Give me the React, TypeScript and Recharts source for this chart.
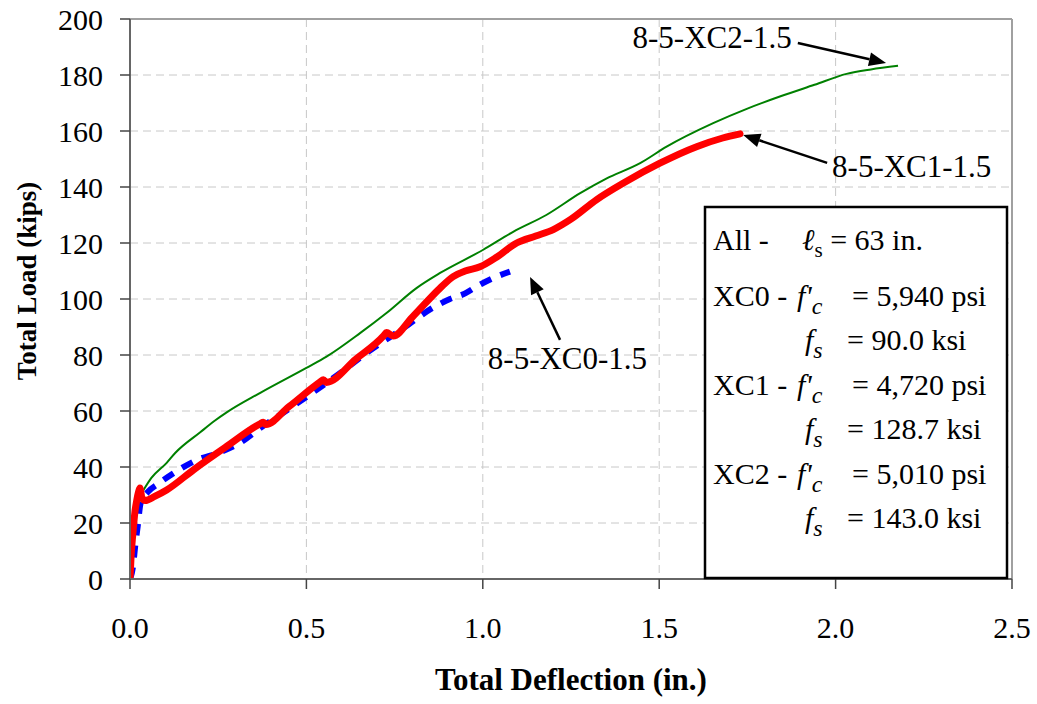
import { LineChart, Line, XAxis, YAxis, CartesianGrid, ReferenceLine, ReferenceDot, Label } from 'recharts';

const FONT = '"Liberation Serif", "Times New Roman", serif';

// axis ticks
const deflTicks = [0, 0.5, 1, 1.5, 2, 2.5];
const loadTicks = [0, 20, 40, 60, 80, 100, 120, 140, 160, 180, 200];

// 8-5-XC0-1.5 (blue dashed)
const xc0Defl = [0, 0.008, 0.015, 0.022, 0.03, 0.05, 0.08, 0.12, 0.19, 0.25, 0.31, 0.37, 0.425, 0.5, 0.6, 0.67, 0.775, 0.86, 0.907, 0.95, 0.982, 1.03, 1.077];
const xc0Load = [0, 4, 12, 19, 27, 31, 34, 37.5, 42.5, 45, 48.5, 54, 58.6, 65, 74, 80.7, 89.6, 97, 100, 102, 104.4, 107.5, 109.8];

// 8-5-XC1-1.5 (red)
const xc1Defl = [0, 0.003, 0.008, 0.014, 0.019, 0.024, 0.028, 0.034, 0.043, 0.07, 0.104, 0.18, 0.27, 0.37, 0.378, 0.385, 0.45, 0.54, 0.548, 0.556, 0.64, 0.72, 0.727, 0.746, 0.8, 0.879, 0.916, 0.95, 0.992, 1.04, 1.096, 1.15, 1.2, 1.25, 1.323, 1.4, 1.502, 1.606, 1.68, 1.729];
const xc1Load = [0, 8, 16, 24, 28, 31, 32.5, 29, 28, 29.5, 31.8, 39, 47, 55.5, 56, 55.2, 61.5, 70.5, 71.2, 70.2, 78.5, 87, 88, 86.8, 93.5, 103.9, 108, 110, 111.5, 115, 120, 122.5, 124.8, 128.5, 135.5, 141.5, 148.5, 154.4, 157.5, 159];

// 8-5-XC2-1.5 (green)
const xc2Defl = [0, 0.002, 0.005, 0.009, 0.02, 0.037, 0.06, 0.104, 0.128, 0.2, 0.24, 0.274, 0.368, 0.5, 0.557, 0.652, 0.727, 0.812, 0.879, 1.0, 1.086, 1.18, 1.276, 1.35, 1.446, 1.521, 1.653, 1.75, 1.842, 1.94, 2.031, 2.1, 2.177];
const xc2Load = [0, 8, 15, 22, 28, 31.5, 36, 41.5, 45, 52.5, 56.5, 59.5, 66.4, 75.4, 79.4, 87.8, 95, 103.9, 109.3, 117.5, 124, 130, 137.8, 143, 148.5, 154.4, 162.8, 168, 172.3, 176.5, 180.4, 182, 183.3];

// callouts: text anchor point and arrow (tail -> head), in data units
const calloutNames = ['8-5-XC2-1.5', '8-5-XC1-1.5', '8-5-XC0-1.5'];
const calloutText = [[1.876, 193.6, 'end'], [1.99, 147.5, 'start'], [1.24, 78.9, 'middle']];
const calloutTail = [[1.893, 191.4], [1.976, 148.6], [1.219, 85.4]];
const calloutHead = [[2.143, 184.3], [1.738, 158.6], [1.134, 107.9]];

// spec box rows
const specTags = ['XC0 -', 'XC1 -', 'XC2 -'];
const specFc = ['5,940 psi', '4,720 psi', '5,010 psi'];
const specFs = ['90.0 ksi', '128.7 ksi', '143.0 ksi'];

const toRows = (xs: number[], ys: number[]) => xs.map((x, i) => ({ x, y: ys[i] }));

const arrowShape = (p: any) => {
  const { x1, y1, x2, y2 } = p;
  const ang = Math.atan2(y2 - y1, x2 - x1);
  const len = 17;
  const half = 7;
  const bx = x2 - len * Math.cos(ang);
  const by = y2 - len * Math.sin(ang);
  const nx = -Math.sin(ang) * half;
  const ny = Math.cos(ang) * half;
  return (
    <g>
      <line x1={x1} y1={y1} x2={bx} y2={by} stroke="#000" strokeWidth={2.5} />
      <polygon points={`${x2},${y2} ${bx + nx},${by + ny} ${bx - nx},${by - ny}`} fill="#000" />
    </g>
  );
};

function SpecBox() {
  const base = [306, 395, 484];
  return (
    <svg width={1037} height={704} style={{ position: 'absolute', left: 0, top: 0, pointerEvents: 'none' }} fontFamily={FONT} fontSize={30} fill="#000">
      <rect x={705} y={207} width={302} height={371} fill="#fff" stroke="#000" strokeWidth={2.5} />
      <text x={713} y={250}>All -</text>
      <text x={802} y={250}>
        <tspan fontStyle="italic">ℓ</tspan>
        <tspan fontSize={21} dy={7}>s</tspan>
        <tspan dy={-7}> = 63 in.</tspan>
      </text>
      {specTags.map((tag, i) => (
        <g key={tag}>
          <text x={713} y={base[i]}>{tag}</text>
          <text x={797} y={base[i]}>
            <tspan fontStyle="italic">f'</tspan>
            <tspan fontStyle="italic" fontSize={24} dy={8}>c</tspan>
          </text>
          <text x={852} y={base[i]}>= {specFc[i]}</text>
          <text x={805} y={base[i] + 44}>
            <tspan fontStyle="italic">f</tspan>
            <tspan fontStyle="italic" fontSize={24} dy={8}>s</tspan>
          </text>
          <text x={847} y={base[i] + 44}>= {specFs[i]}</text>
        </g>
      ))}
    </svg>
  );
}

export default function App() {
  const tickStyle = { fontSize: 30, fill: '#000', fontFamily: FONT };
  return (
    <div style={{ position: 'absolute', left: 0, top: 0, width: 1037, height: 704, background: '#fff' }}>
      <LineChart width={1037} height={704} margin={{ top: 19, right: 25, left: 0, bottom: 0 }}>
        <CartesianGrid stroke="#c8c8c8" strokeDasharray="8 5" />
        <XAxis
          type="number"
          dataKey="x"
          domain={[0, 2.5]}
          ticks={deflTicks}
          tickFormatter={(v: number) => v.toFixed(1)}
          height={125}
          tickSize={10}
          tickMargin={28}
          tick={tickStyle}
          axisLine={{ stroke: '#666', strokeWidth: 2 }}
          tickLine={{ stroke: '#444', strokeWidth: 1.5 }}
          allowDataOverflow
        >
          <Label
            content={(p: any) => {
              const vb = p.viewBox;
              return (
                <text x={vb.x + vb.width / 2} y={690} textAnchor="middle" fontFamily={FONT} fontSize={31} fontWeight="bold" fill="#000">
                  Total Deflection (in.)
                </text>
              );
            }}
          />
        </XAxis>
        <YAxis
          type="number"
          domain={[0, 200]}
          ticks={loadTicks}
          width={130}
          tickSize={10}
          tickMargin={17}
          tick={tickStyle}
          axisLine={{ stroke: '#666', strokeWidth: 2 }}
          tickLine={{ stroke: '#444', strokeWidth: 1.5 }}
          allowDataOverflow
        >
          <Label
            content={(p: any) => {
              const vb = p.viewBox;
              const cy = vb.y + vb.height / 2 - 18;
              return (
                <text transform={`translate(36, ${cy}) rotate(-90)`} textAnchor="middle" fontFamily={FONT} fontSize={27} fontWeight="bold" fill="#000">
                  Total Load (kips)
                </text>
              );
            }}
          />
        </YAxis>
        <ReferenceLine x={2.5} stroke="#a0a0a0" strokeWidth={2} />
        <ReferenceLine y={200} stroke="#a0a0a0" strokeWidth={2} />
        <Line
          data={toRows(xc0Defl, xc0Load)}
          dataKey="y"
          type="monotone"
          stroke="#0000ff"
          strokeWidth={6}
          strokeDasharray="12 10"
          dot={false}
          isAnimationActive={false}
        />
        <Line
          data={toRows(xc2Defl, xc2Load)}
          dataKey="y"
          type="monotone"
          stroke="#008000"
          strokeWidth={2}
          dot={false}
          isAnimationActive={false}
        />
        <Line
          data={toRows(xc1Defl, xc1Load)}
          dataKey="y"
          type="monotone"
          stroke="#ff0000"
          strokeWidth={7}
          strokeLinecap="round"
          strokeLinejoin="round"
          dot={false}
          isAnimationActive={false}
        />
        {calloutNames.map((name, i) => (
          <ReferenceLine
            key={`arrow-${name}`}
            segment={[
              { x: calloutTail[i][0], y: calloutTail[i][1] },
              { x: calloutHead[i][0], y: calloutHead[i][1] },
            ]}
            shape={arrowShape}
          />
        ))}
        {calloutNames.map((name, i) => (
          <ReferenceDot
            key={`text-${name}`}
            x={calloutText[i][0] as number}
            y={calloutText[i][1] as number}
            r={0}
            shape={(p: any) => (
              <text x={p.cx} y={p.cy} dy="0.35em" textAnchor={calloutText[i][2] as any} fontFamily={FONT} fontSize={31} fill="#000">
                {name}
              </text>
            )}
          />
        ))}
      </LineChart>
      <SpecBox />
    </div>
  );
}
